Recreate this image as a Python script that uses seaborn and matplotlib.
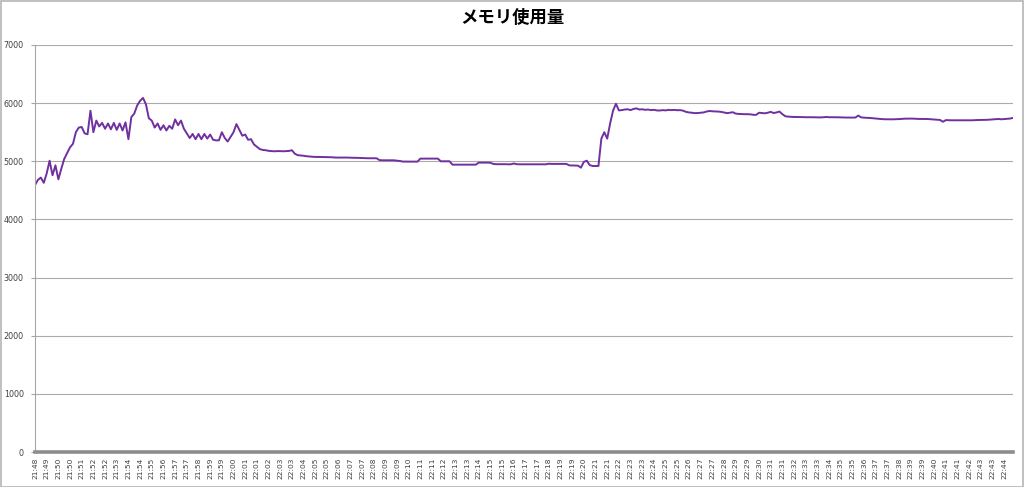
import numpy as np
import pandas as pd
import matplotlib
matplotlib.use("Agg")
import matplotlib.pyplot as plt
from matplotlib.patches import Rectangle
import seaborn as sns

title = "メモリ使用量"

# one sample every 10 s; a tick label every 4 samples
memory = [
    4590, 4680, 4720, 4630, 4790, 5010, 4760, 4930, 4690, 4870,
    5040, 5140, 5240, 5300, 5500, 5580, 5590, 5480, 5465, 5870,
    5500, 5700, 5600, 5660, 5560, 5650, 5550, 5660, 5540, 5650,
    5530, 5670, 5380, 5760, 5820, 5960, 6040, 6090, 5980, 5740,
    5700, 5580, 5650, 5540, 5620, 5530, 5610, 5560, 5720, 5620,
    5700, 5560, 5480, 5400, 5470, 5380, 5470, 5380, 5470, 5390,
    5460, 5370, 5360, 5360, 5500, 5400, 5340, 5420, 5500, 5640,
    5540, 5440, 5460, 5370, 5380, 5290, 5250, 5210, 5195, 5190,
    5180, 5175, 5172, 5175, 5175, 5172, 5175, 5178, 5190, 5130,
    5105, 5100, 5095, 5087, 5082, 5078, 5075, 5075, 5074, 5073,
    5072, 5070, 5068, 5064, 5064, 5064, 5064, 5064, 5062, 5060,
    5060, 5058, 5056, 5055, 5052, 5052, 5052, 5052, 5020, 5017,
    5017, 5017, 5017, 5017, 5010, 5005, 4995, 4995, 4995, 4995,
    4995, 4994, 5046, 5046, 5046, 5046, 5046, 5046, 5046, 5000,
    5000, 5000, 5000, 4942, 4942, 4942, 4942, 4942, 4942, 4942,
    4942, 4942, 4977, 4977, 4977, 4977, 4975, 4954, 4950, 4950,
    4950, 4950, 4948, 4948, 4962, 4950, 4948, 4948, 4948, 4948,
    4948, 4948, 4948, 4948, 4948, 4948, 4958, 4955, 4955, 4955,
    4955, 4955, 4955, 4930, 4928, 4925, 4925, 4890, 4990, 5010,
    4935, 4919, 4919, 4919, 5390, 5500, 5390, 5650, 5870, 5990,
    5875, 5880, 5890, 5895, 5880, 5900, 5910, 5890, 5895, 5885,
    5890, 5880, 5885, 5875, 5873, 5880, 5875, 5885, 5880, 5884,
    5878, 5880, 5870, 5850, 5840, 5835, 5828, 5830, 5835, 5840,
    5855, 5865, 5860, 5858, 5855, 5850, 5840, 5828, 5835, 5844,
    5820, 5815, 5812, 5810, 5810, 5808, 5800, 5798, 5835, 5830,
    5825, 5835, 5850, 5830, 5840, 5855, 5810, 5775, 5768, 5765,
    5762, 5762, 5760, 5760, 5758, 5758, 5757, 5757, 5755, 5755,
    5757, 5762, 5758, 5757, 5757, 5757, 5755, 5752, 5752, 5752,
    5752, 5752, 5786, 5755, 5750, 5748, 5745, 5740, 5735, 5730,
    5726, 5723, 5722, 5722, 5722, 5724, 5726, 5730, 5733, 5734,
    5734, 5733, 5730, 5728, 5728, 5728, 5726, 5722, 5718, 5714,
    5711, 5680, 5708, 5706, 5705, 5705, 5705, 5705, 5705, 5705,
    5705, 5705, 5708, 5710, 5711, 5711, 5713, 5716, 5720, 5724,
    5728, 5722, 5726, 5730, 5735, 5746,
]

time_labels = [
    "21:48", "21:49", "21:50", "21:50", "21:51", "21:52", "21:52", "21:53",
    "21:54", "21:54", "21:55", "21:56", "21:57", "21:57", "21:58", "21:59",
    "21:59", "22:00", "22:01", "22:01", "22:02", "22:03", "22:03", "22:04",
    "22:05", "22:05", "22:06", "22:07", "22:07", "22:08", "22:09", "22:09",
    "22:10", "22:11", "22:11", "22:12", "22:13", "22:13", "22:14", "22:15",
    "22:15", "22:16", "22:17", "22:17", "22:18", "22:19", "22:19", "22:20",
    "22:21", "22:21", "22:22", "22:23", "22:23", "22:24", "22:25", "22:25",
    "22:26", "22:27", "22:27", "22:28", "22:29", "22:29", "22:30", "22:31",
    "22:31", "22:32", "22:33", "22:33", "22:34", "22:35", "22:35", "22:36",
    "22:37", "22:37", "22:38", "22:39", "22:39", "22:40", "22:41", "22:41",
    "22:42", "22:43", "22:43", "22:44",
]

y_ticks = [0, 1000, 2000, 3000, 4000, 5000, 6000, 7000]
samples_per_label = 4

df = pd.DataFrame({"sample": np.arange(len(memory)), "memory": memory})

sns.set_style("white")
plt.rcParams["font.family"] = ["DejaVu Sans", "Noto Sans CJK JP"]

fig = plt.figure(figsize=(10.24, 4.87), dpi=100)
ax = fig.add_axes([35 / 1024, 35 / 487, 978 / 1024, 407 / 487])

sns.lineplot(data=df, x="sample", y="memory", ax=ax, color="#7030a0",
             linewidth=1.4)

ax.set_xlim(0, len(memory) - 1)
ax.set_ylim(0, 7000)
ax.set_yticks(y_ticks)
ax.set_yticklabels([str(v) for v in y_ticks])
ax.set_xticks(np.arange(len(time_labels)) * samples_per_label)
ax.set_xticklabels(time_labels, rotation=90)
ax.set_xlabel("")
ax.set_ylabel("")

ax.yaxis.grid(True, color="#ababab", linewidth=0.8)
ax.xaxis.grid(False)
ax.set_axisbelow(True)

for s in ["top", "right"]:
    ax.spines[s].set_visible(False)
ax.spines["left"].set_color("#a6a6a6")
ax.spines["left"].set_linewidth(0.8)
ax.spines["bottom"].set_color("#8c8c8c")
ax.spines["bottom"].set_linewidth(2.6)

ax.tick_params(axis="y", which="major", left=True, length=3, width=0.8,
               color="#a6a6a6", labelsize=5.8, labelcolor="#404040", pad=5)
ax.tick_params(axis="x", which="major", bottom=False, length=0,
               labelsize=5.4, labelcolor="#404040", pad=4)

fig.text(0.5, 1 - 18 / 487, title, ha="center", va="center",
         fontsize=12.5, fontweight="bold", color="#000000",
         family=["Noto Sans CJK JP", "DejaVu Sans"])

fig.add_artist(Rectangle((0.0008, 0.001), 0.9984, 0.997,
                         transform=fig.transFigure, fill=False,
                         edgecolor="#b5b5b5", linewidth=1.2))

fig.savefig("out.png", dpi=100)
